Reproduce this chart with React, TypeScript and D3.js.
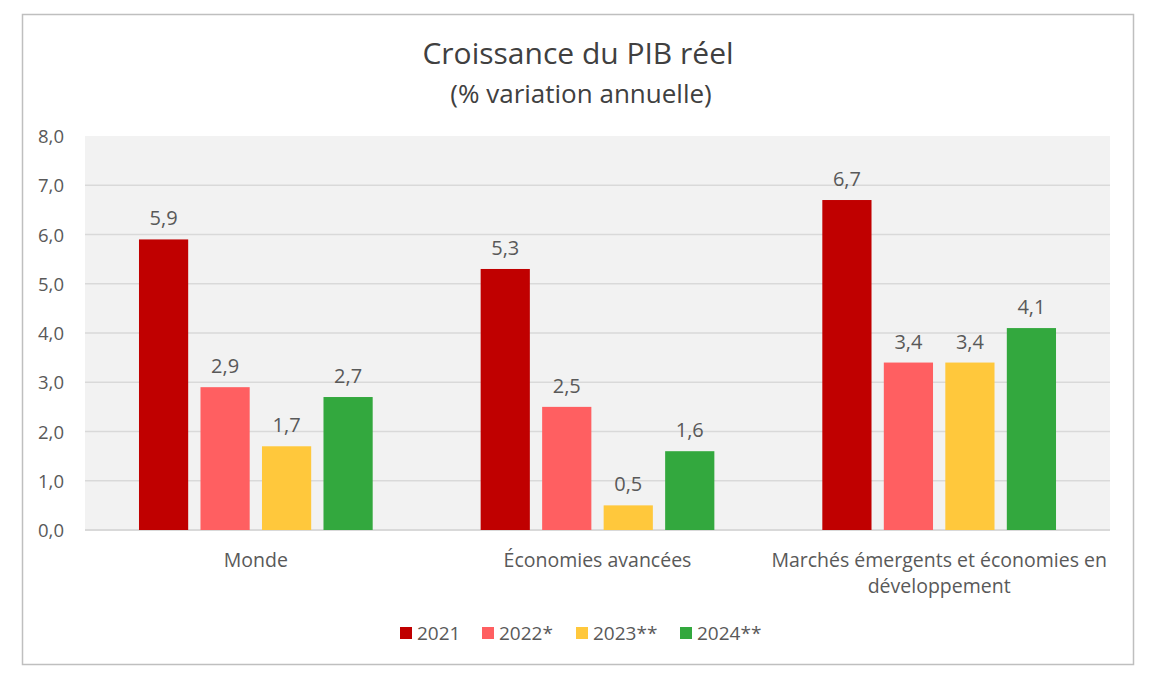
import React from "react";
import * as d3 from "d3";

const categories: string[][] = [
  ["Monde"],
  ["Économies avancées"],
  ["Marchés émergents et économies en", "développement"],
];
const seriesNames = ["2021", "2022*", "2023**", "2024**"];
const seriesColors = ["#C00000", "#FF5F61", "#FFC83C", "#33A83E"];
const values: number[][] = [
  [5.9, 5.3, 6.7], // 2021
  [2.9, 2.5, 3.4], // 2022*
  [1.7, 0.5, 3.4], // 2023**
  [2.7, 1.6, 4.1], // 2024**
];
const yTicks = [0, 1, 2, 3, 4, 5, 6, 7, 8];

const FONT = "'Open Sans', 'Noto Sans', sans-serif";
const fmt = (v: number) => v.toFixed(1).replace(".", ",");

export default function App() {
  const W = 1156, H = 678;
  const left = 85, right = 1110, top = 136, bottom = 530;
  const x0 = d3.scaleBand<number>().domain(d3.range(categories.length)).range([left, right]).padding(0);
  const x1 = d3.scaleBand<number>().domain(d3.range(seriesNames.length)).range([0, 246]).paddingInner(0.2).paddingOuter(0.1);
  const y = d3.scaleLinear().domain([0, 8]).range([bottom, top]);
  const groupOffset = (x0.bandwidth() - 246) / 2;

  const legendX = [400, 482, 576, 680];

  return (
    <svg width={W} height={H} style={{ position: "absolute", left: 0, top: 0 }} fontFamily={FONT}>
      <rect x={0} y={0} width={W} height={H} fill="#fff" />
      <rect x={22.5} y={14.5} width={1111} height={650} fill="#fff" stroke="#BFBFBF" strokeWidth={1.5} />
      <text x={578} y={64} textAnchor="middle" fontSize={30} fill="#404040">Croissance du PIB réel</text>
      <text x={581} y={103} textAnchor="middle" fontSize={26} fill="#404040">(% variation annuelle)</text>

      <rect x={left} y={top} width={right - left} height={bottom - top} fill="#F2F2F2" />
      {yTicks.map((t) => (
        <g key={t}>
          {t > 0 && t < 8 && (
            <line x1={left} x2={right} y1={y(t)} y2={y(t)} stroke="#D9D9D9" strokeWidth={1.5} />
          )}
          <text x={64} y={y(t) + 7} textAnchor="end" fontSize={18.5} fill="#595959">{fmt(t)}</text>
        </g>
      ))}
      <line x1={left} x2={right} y1={bottom} y2={bottom} stroke="#D9D9D9" strokeWidth={2} />

      {categories.map((cat, ci) => (
        <g key={ci}>
          {seriesNames.map((s, si) => {
            const v = values[si][ci];
            const bx = (x0(ci) as number) + groupOffset + (x1(si) as number);
            return (
              <g key={s}>
                <rect x={bx} y={y(v)} width={x1.bandwidth()} height={bottom - y(v)} fill={seriesColors[si]} />
                <text x={bx + x1.bandwidth() / 2} y={y(v) - 14} textAnchor="middle" fontSize={20} fill="#595959">{fmt(v)}</text>
              </g>
            );
          })}
          {cat.map((line, li) => (
            <text key={li} x={(x0(ci) as number) + x0.bandwidth() / 2} y={567 + li * 26} textAnchor="middle" fontSize={19.5} fill="#595959">{line}</text>
          ))}
        </g>
      ))}

      {seriesNames.map((s, si) => (
        <g key={s}>
          <rect x={legendX[si]} y={627} width={12} height={12} fill={seriesColors[si]} />
          <text x={legendX[si] + 17} y={640} fontSize={19} fill="#595959">{s}</text>
        </g>
      ))}
    </svg>
  );
}
